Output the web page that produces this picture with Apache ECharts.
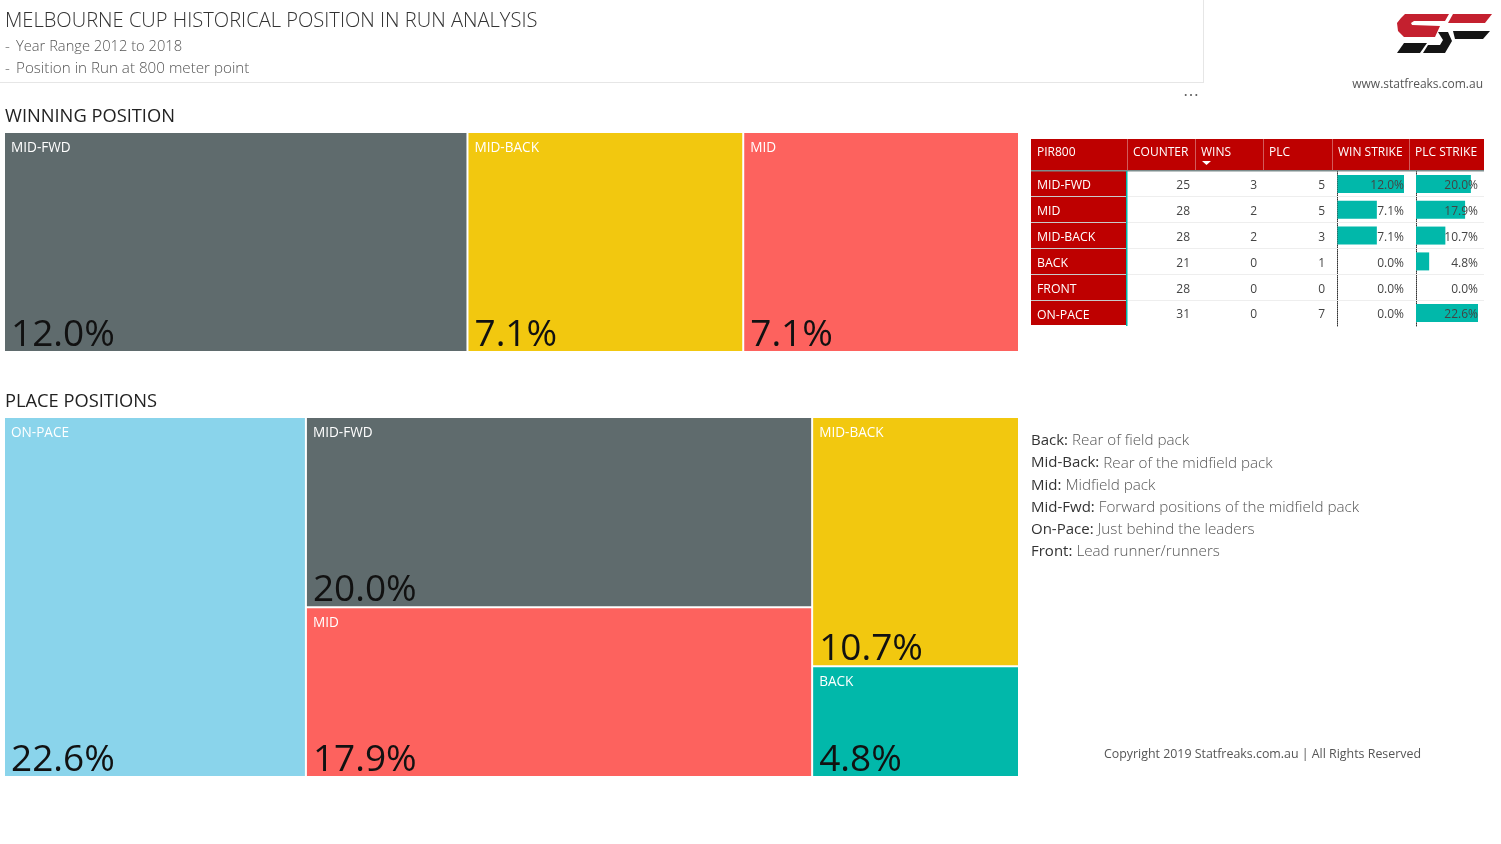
<!DOCTYPE html>
<html>
<head>
<meta charset="utf-8">
<title>Melbourne Cup Position in Run</title>
<script src="https://cdn.jsdelivr.net/npm/echarts@6/dist/echarts.min.js"></script>
<style>
  html, body { margin: 0; padding: 0; background: #fff; }
  #chart { width: 1501px; height: 844px; }
</style>
</head>
<body>
<div id="chart"></div>
<script>
// treemaps
const winNames = ['MID-FWD', 'MID-BACK', 'MID'];
const winValues = [12.0, 7.14, 7.14];
const placeNames = ['ON-PACE', 'MID-FWD', 'MID', 'MID-BACK', 'BACK'];
const placeValues = [22.58, 20.0, 17.86, 10.71, 4.76];

// table
const tableHeaders = ['PIR800', 'COUNTER', 'WINS', 'PLC', 'WIN STRIKE', 'PLC STRIKE'];
const pirRows = ['MID-FWD', 'MID', 'MID-BACK', 'BACK', 'FRONT', 'ON-PACE'];
const counterCol = [25, 28, 28, 21, 28, 31];
const winsCol = [3, 2, 2, 0, 0, 0];
const plcCol = [5, 5, 3, 1, 0, 7];
const winStrikeCol = [12.0, 7.1, 7.1, 0.0, 0.0, 0.0];
const plcStrikeCol = [20.0, 17.9, 10.7, 4.8, 0.0, 22.6];

// notes on the right
const notes = [
  ['Back:', 'Rear of field pack'],
  ['Mid-Back:', 'Rear of the midfield pack'],
  ['Mid:', 'Midfield pack'],
  ['Mid-Fwd:', 'Forward positions of the midfield pack'],
  ['On-Pace:', 'Just behind the leaders'],
  ['Front:', 'Lead runner/runners']
];

const colors = {
  'MID-FWD': '#5F6B6D',
  'MID-BACK': '#F2C80F',
  'MID': '#FD625E',
  'ON-PACE': '#8AD4EB',
  'BACK': '#01B8AA'
};

const FONT = '"Open Sans", "Noto Sans", sans-serif';
const RED = '#BE0000';
const TEAL = '#01B8AA';

const chart = echarts.init(document.getElementById('chart'), null, { renderer: 'canvas' });

function txt(text, x, y, size, fill, opts) {
  opts = opts || {};
  return {
    type: 'text', z: 100, silent: true,
    style: {
      text: text, x: x, y: y, fill: fill,
      font: (opts.weight || 400) + ' ' + size + 'px ' + FONT,
      textAlign: opts.align || 'left',
      textVerticalAlign: 'middle'
    }
  };
}

function rect(x, y, w, h, fill, z) {
  return { type: 'rect', z: z || 1, silent: true, shape: { x: x, y: y, width: w, height: h }, style: { fill: fill } };
}

function poly(points, fill) {
  return { type: 'polygon', z: 5, silent: true, shape: { points: points }, style: { fill: fill } };
}

// a treemap pair: one series paints the cells and the value, a clear one on top holds the name
function treemaps(names, values, top, height) {
  const base = {
    type: 'treemap', left: 5, top: top, width: 1013, height: height,
    sort: false, roam: false, nodeClick: false, silent: true,
    breadcrumb: { show: false },
    animation: false
  };
  const painted = names.map((n, i) => ({ name: n, value: values[i], itemStyle: { color: colors[n] } }));
  const clear = names.map((n, i) => ({ name: n, value: values[i], itemStyle: { color: 'rgba(0,0,0,0)' } }));
  return [
    Object.assign({}, base, {
      data: painted,
      itemStyle: { gapWidth: 2, borderWidth: 0 },
      label: {
        show: true, position: 'insideBottomLeft', distance: 0, padding: [0, 0, -3, 6],
        color: '#111', fontFamily: FONT, fontSize: 37,
        formatter: p => p.value.toFixed(1) + '%'
      }
    }),
    Object.assign({}, base, {
      data: clear,
      itemStyle: { gapWidth: 2, borderWidth: 0 },
      label: {
        show: true, position: 'insideTopLeft', distance: 0, padding: [8, 0, 0, 6],
        color: '#fff', fontFamily: FONT, fontSize: 13.6,
        formatter: p => p.name
      }
    })
  ];
}

// table layout
const colX = [1031, 1127, 1195, 1263, 1332, 1409, 1484];
const rowY = [171, 197, 223, 249, 275, 301, 326];
const cellRight = [1190, 1257, 1325, 1404, 1478];

function tableGraphics() {
  const g = [];
  g.push(rect(colX[0], 139, colX[6] - colX[0], 32, RED));
  for (let i = 1; i < 6; i++) g.push(rect(colX[i], 139, 1, 32, '#D25A5A', 2));
  g.push(rect(colX[0], 170, colX[6] - colX[0], 1.5, '#7C8C8C', 3));
  tableHeaders.forEach((h, i) => {
    g.push(txt(h, colX[i] + 6, 152.5, 12, '#fff'));
  });
  g.push(poly([[1202, 161], [1211, 161], [1206.5, 165]], '#fff'));
  pirRows.forEach((r, i) => {
    const y0 = rowY[i], y1 = rowY[i + 1];
    g.push(rect(colX[0], y0, colX[1] - colX[0], y1 - y0 - 1, RED));
    if (i < 5) {
      g.push(rect(colX[0], y1 - 1, colX[1] - colX[0], 1, '#C9C9C9', 2));
      g.push(rect(colX[1], y1 - 1, colX[6] - colX[1], 1, '#EEEEEE', 0));
    }
    const yc = (y0 + y1) / 2 + 1.5;
    g.push(txt(r, colX[0] + 6, yc, 12.3, '#fff'));
    g.push(txt(String(counterCol[i]), cellRight[0], yc, 12, '#444', { align: 'right' }));
    g.push(txt(String(winsCol[i]), cellRight[1], yc, 12, '#444', { align: 'right' }));
    g.push(txt(String(plcCol[i]), cellRight[2], yc, 12, '#444', { align: 'right' }));
    g.push(txt(winStrikeCol[i].toFixed(1) + '%', cellRight[3], yc, 12, '#444', { align: 'right' }));
    g.push(txt(plcStrikeCol[i].toFixed(1) + '%', cellRight[4], yc, 12, '#444', { align: 'right' }));
  });
  g.push(rect(colX[1] - 1, 171, 1.5, 155, TEAL, 3));
  return g;
}

function headerGraphics() {
  const g = [];
  g.push(txt('MELBOURNE CUP HISTORICAL POSITION IN RUN ANALYSIS', 5, 21.5, 20.1, '#333', { weight: 300 }));
  g.push(txt('-', 5, 47, 15, '#666', { weight: 300 }));
  g.push(txt('Year Range 2012 to 2018', 16, 47, 14.7, '#555', { weight: 300 }));
  g.push(txt('-', 5, 69, 15, '#666', { weight: 300 }));
  g.push(txt('Position in Run at 800 meter point', 16, 69, 15.2, '#555', { weight: 300 }));
  g.push(rect(0, 82, 1204, 1, '#E6E6E6'));
  g.push(rect(1203, 0, 1, 83, '#E6E6E6'));
  g.push(txt('\u22EF', 1191, 95, 16, '#666', { align: 'center' }));
  g.push(txt('WINNING POSITION', 5, 117, 18.3, '#222'));
  g.push(txt('PLACE POSITIONS', 5, 402, 18.3, '#222'));
  g.push(txt('www.statfreaks.com.au', 1483, 84.5, 12, '#555', { align: 'right' }));
  g.push(txt('Copyright 2019 Statfreaks.com.au | All Rights Reserved', 1421, 754, 12.4, '#555', { align: 'right' }));
  // logo
  g.push(poly([[1405, 14], [1449, 14], [1445, 21], [1414, 21], [1411, 23], [1412, 25], [1440, 26], [1435, 37], [1404, 37], [1398, 31], [1397, 23], [1401, 18]], '#C4202F'));
  g.push(poly([[1453, 14], [1492, 14], [1485, 23], [1448, 23]], '#C4202F'));
  g.push(poly([[1453, 31], [1490, 31], [1483, 39], [1455, 39]], '#141414'));
  g.push(poly([[1404, 43], [1427, 43], [1420, 53], [1397, 53]], '#141414'));
  g.push(poly([[1438, 32], [1448, 32], [1452, 41], [1445, 53], [1423, 53], [1428, 45], [1440, 45], [1443, 40]], '#141414'));
  return g;
}

function noteGraphics() {
  const g = [];
  const ctx = document.createElement('canvas').getContext('2d');
  notes.forEach((n, i) => {
    const y = 441 + i * 22.2;
    ctx.font = '400 15px ' + FONT;
    g.push(txt(n[0], 1031, y, 15, '#333'));
    g.push(txt(n[1], 1031 + ctx.measureText(n[0]).width + 4, y, 15.2, '#555', { weight: 300 }));
  });
  return g;
}

function strikeAxes(gridIndex) {
  return {
    x: { gridIndex: gridIndex, type: 'value', min: 0, max: gridIndex === 0 ? 12 : 22.6, show: false },
    y: {
      gridIndex: gridIndex, type: 'category', inverse: true, data: pirRows,
      axisTick: { show: false }, axisLabel: { show: false },
      axisLine: { show: true, lineStyle: { color: '#333', type: 'dotted', width: 1 } }
    }
  };
}

const axes0 = strikeAxes(0);
const axes1 = strikeAxes(1);

chart.setOption({
  animation: false,
  textStyle: { fontFamily: FONT },
  grid: [
    { left: 1337.5, top: 171, width: 66.5, height: 155 },
    { left: 1416, top: 171, width: 62, height: 155 }
  ],
  xAxis: [axes0.x, axes1.x],
  yAxis: [axes0.y, axes1.y],
  graphic: { elements: [].concat(headerGraphics(), tableGraphics(), noteGraphics()) },
  series: [].concat(
    treemaps(winNames, winValues, 133, 218),
    treemaps(placeNames, placeValues, 418, 358),
    [
      { type: 'bar', xAxisIndex: 0, yAxisIndex: 0, data: winStrikeCol, barWidth: 18, itemStyle: { color: TEAL }, silent: true },
      { type: 'bar', xAxisIndex: 1, yAxisIndex: 1, data: plcStrikeCol, barWidth: 18, itemStyle: { color: TEAL }, silent: true }
    ]
  )
});

window.addEventListener('resize', () => chart.resize());
</script>
</body>
</html>
